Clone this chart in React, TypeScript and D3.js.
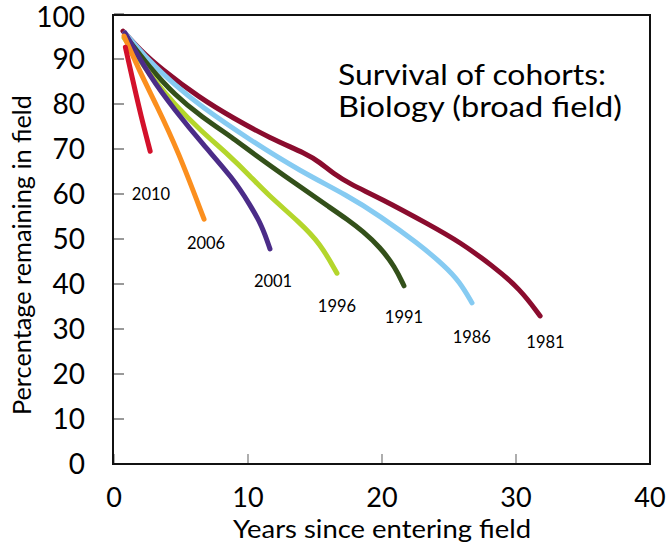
import React from "react";
import * as d3 from "d3";

// ---- data ----
const cohortNames = ["1981", "1986", "1991", "1996", "2001", "2006", "2010"];

const cohort1981: [number, number][] = [
  [0.67, 96.2], [1.94, 92], [3.43, 88], [6.42, 81.3], [8.88, 76.9], [11.64, 72.4],
  [14.4, 68.9], [15.37, 67.0], [16.34, 64.6], [17.61, 62.2], [19.85, 59.1],
  [23.58, 53.1], [25.82, 49.3], [28.28, 44], [30.3, 38.9], [31.8, 32.9],
];
const cohort1986: [number, number][] = [
  [0.82, 95.8], [2.69, 89.3], [4.55, 84.2], [6.42, 79.6], [10.15, 72], [13.88, 65.1],
  [17.46, 59.6], [19.85, 55.1], [22.61, 49.2], [24.7, 44.0], [25.82, 40.4], [26.72, 35.8],
];
const cohort1991: [number, number][] = [
  [0.82, 95.3], [2.69, 88], [4.55, 82], [6.42, 77.4], [9.18, 71.8], [10.15, 69.5],
  [13.88, 61.6], [16.12, 57.0], [17.39, 54.4], [18.58, 51.7], [19.85, 48.2], [20.97, 43.8], [21.64, 39.6],
];
const cohort1996: [number, number][] = [
  [0.75, 94.7], [2.69, 86.4], [4.55, 79.8], [6.42, 74.2], [8.66, 68.4], [10.15, 64.0],
  [11.42, 60.0], [13.88, 53.6], [15.37, 49.1], [16.64, 42.4],
];
const cohort2001: [number, number][] = [
  [0.82, 95.8], [2.69, 86.0], [4.55, 78.6], [6.64, 71.0], [8.88, 63.5], [10.15, 57.6],
  [11.04, 53.0], [11.64, 47.8],
];
const cohort2006: [number, number][] = [
  [0.75, 95.1], [1.94, 87.1], [3.13, 80.0], [4.78, 69.6], [6.72, 54.4],
];
const cohort2010: [number, number][] = [
  [0.85, 92.6], [1.5, 84], [2.0, 77.5], [2.7, 69.5],
];

const cohortSeries = [cohort1981, cohort1986, cohort1991, cohort1996, cohort2001, cohort2006, cohort2010];

// label anchor (data units): centre x, baseline y
const labelX = [32.2, 26.7, 21.64, 16.64, 11.87, 6.87, 2.76];
const labelY = [25.8, 26.9, 31.3, 33.8, 39.3, 47.8, 58.7];

const xTicks = [0, 10, 20, 30, 40];
const yTicks = [0, 10, 20, 30, 40, 50, 60, 70, 80, 90, 100];

const titleLines = ["Survival of cohorts:", "Biology (broad field)"];
const xTitle = "Years since entering field";
const yTitle = "Percentage remaining in field";

// ---- styles ----
const colors = ["#8a0c2e", "#86cbf2", "#33501a", "#b4d62c", "#4b2c88", "#fb8f1e", "#d3112b"];
const FONT = "Lato, 'Open Sans', sans-serif";

export default function App() {
  const W = 666, H = 548;
  const x = d3.scaleLinear().domain([0, 40]).range([114, 650]);
  const y = d3.scaleLinear().domain([0, 100]).range([464, 14]);
  const line = d3
    .line<[number, number]>()
    .x((d) => x(d[0]))
    .y((d) => y(d[1]))
    .curve(d3.curveBasis);

  return (
    <svg width={W} height={H} style={{ position: "absolute", left: 0, top: 0, background: "#fff" }} fontFamily={FONT}>
      <rect x={0} y={0} width={W} height={H} fill="#fff" />
      {/* ticks */}
      {yTicks.map((t) => (
        <line key={"yt" + t} x1={x(0)} x2={x(0) + 10} y1={y(t)} y2={y(t)} stroke="#555" strokeWidth={1.2} />
      ))}
      {xTicks.map((t) => (
        <line key={"xt" + t} x1={x(t)} x2={x(t)} y1={y(0)} y2={y(0) - 10} stroke="#777" strokeWidth={1.2} />
      ))}
      {/* series */}
      {cohortSeries.map((s, i) => (
        <path key={cohortNames[i]} d={line(s) || ""} fill="none" stroke={colors[i]} strokeWidth={5} strokeLinecap="round" strokeLinejoin="round" />
      ))}
      {/* frame */}
      <rect x={x(0) - 1} y={y(100) + 1} width={x(40) - x(0) + 1} height={y(0) - y(100) - 1} fill="none" stroke="#111" strokeWidth={2} />
      {/* tick labels */}
      {yTicks.map((t) => (
        <text key={"yl" + t} x={85} y={y(t) + (t === 100 ? 3 : 0)} dy="0.35em" textAnchor="end" fontSize={28} fill="#000">
          {t}
        </text>
      ))}
      {xTicks.map((t) => (
        <text key={"xl" + t} x={x(t)} y={507} textAnchor="middle" fontSize={27} fill="#000">
          {t}
        </text>
      ))}
      {/* cohort labels */}
      {cohortNames.map((n, i) => (
        <text key={"cl" + n} x={x(labelX[i])} y={y(labelY[i])} textAnchor="middle" fontSize={16.5} fill="#000">
          {n}
        </text>
      ))}
      {/* title */}
      {titleLines.map((l, i) => (
        <text key={"tt" + i} x={338} y={85 + i * 32} fontSize={29} fill="#000"
          textLength={i === 0 ? 268 : 284} lengthAdjust="spacingAndGlyphs">
          {l}
        </text>
      ))}
      {/* axis titles */}
      <text x={382} y={538} textAnchor="middle" fontSize={25} fill="#000" textLength={298} lengthAdjust="spacingAndGlyphs">
        {xTitle}
      </text>
      <text transform={`translate(31,255) rotate(-90)`} textAnchor="middle" fontSize={25} fill="#000" textLength={320} lengthAdjust="spacingAndGlyphs">
        {yTitle}
      </text>
    </svg>
  );
}
